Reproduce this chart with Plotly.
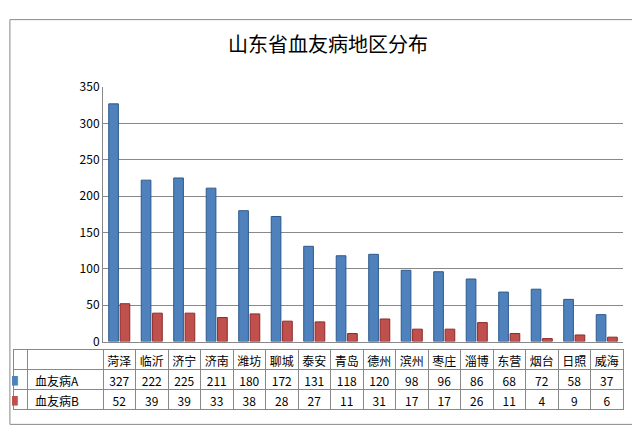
import plotly.graph_objects as go

cities = ['菏泽', '临沂', '济宁', '济南', '潍坊', '聊城', '泰安', '青岛', '德州', '滨州', '枣庄', '淄博', '东营', '烟台', '日照', '威海']
series_a = [327, 222, 225, 211, 180, 172, 131, 118, 120, 98, 96, 86, 68, 72, 58, 37]
series_b = [52, 39, 39, 33, 38, 28, 27, 11, 31, 17, 17, 26, 11, 4, 9, 6]
name_a = '血友病A'
name_b = '血友病B'

blue = '#4F81BD'
red = '#C0504D'
font = 'Noto Sans CJK SC'

fig = go.Figure()
fig.add_trace(go.Bar(x=cities, y=series_a, name=name_a,
                     marker=dict(color=blue, line=dict(color='#2C5A8C', width=1))))
fig.add_trace(go.Bar(x=cities, y=series_b, name=name_b,
                     marker=dict(color=red, line=dict(color='#8C2A28', width=1))))

# data table below the plot
n = len(cities)
fig.add_trace(go.Table(
    domain=dict(x=[5 / 640, 615 / 640], y=[5 / 425, 80 / 425]),
    columnwidth=[14, 76] + [32.5] * n,
    header=dict(values=['', ''] + cities, height=20, align='center',
                fill_color='white', line_color='#888',
                font=dict(family=font, size=12, color='black')),
    cells=dict(values=[['■', '■'], [name_a, name_b]] +
               [[a, b] for a, b in zip(series_a, series_b)],
               height=20, align=['right', 'left'] + ['center'] * n,
               fill_color='white', line_color='#888',
               font=dict(family=font, size=12,
                         color=[[blue, red]] + ['black'] * (n + 1))),
))

fig.update_layout(
    width=640, height=425,
    margin=dict(l=0, r=0, t=0, b=0),
    paper_bgcolor='white', plot_bgcolor='white',
    showlegend=False,
    barmode='group', bargap=0.3, bargroupgap=0.15,
    font=dict(family=font, size=12, color='black'),
    title=dict(text='山东省血友病地区分布', x=0.5, y=0.93, xanchor='center',
               font=dict(family=font, size=20, color='black')),
    xaxis=dict(domain=[95 / 640, 615 / 640], showticklabels=False,
               showline=True, linecolor='#888'),
    yaxis=dict(domain=[88 / 425, 353 / 425], range=[0, 350], dtick=50,
               showgrid=True, gridcolor='#888', showline=True, linecolor='#888',
               ticks='', tickfont=dict(size=12)),
    shapes=[dict(type='rect', xref='paper', yref='paper', x0=0.003, x1=0.997,
                 y0=0.004, y1=0.996, line=dict(color='#888', width=1))],
)

fig.write_html("out.html")
